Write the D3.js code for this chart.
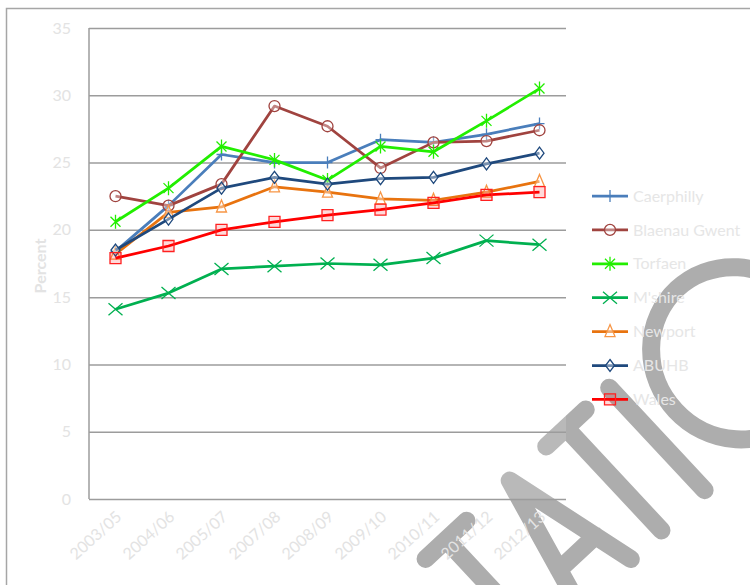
<!DOCTYPE html>
<html>
<head>
<meta charset="utf-8">
<script src="https://cdn.jsdelivr.net/npm/d3@7"></script>
<style>
  body { margin: 0; background: #fff; }
  text { font-family: Lato, "Open Sans", sans-serif; }
</style>
</head>
<body>
<div id="chart"></div>
<script>
// categories and tick labels
var years = ["2003/05", "2004/06", "2005/07", "2007/08", "2008/09", "2009/10", "2010/11", "2011/12", "2012/13"];
var yTicks = [0, 5, 10, 15, 20, 25, 30, 35];

// series values (percent)
var caerphilly = [18.4, 21.8, 25.6, 25.0, 25.0, 26.7, 26.5, 27.1, 27.9];
var blaenauGwent = [22.5, 21.8, 23.4, 29.2, 27.7, 24.6, 26.5, 26.6, 27.4];
var torfaen = [20.6, 23.1, 26.2, 25.2, 23.7, 26.2, 25.8, 28.1, 30.5];
var mshire = [14.1, 15.3, 17.1, 17.3, 17.5, 17.4, 17.9, 19.2, 18.9];
var newport = [18.2, 21.3, 21.7, 23.2, 22.8, 22.3, 22.2, 22.8, 23.6];
var abuhb = [18.5, 20.8, 23.1, 23.9, 23.4, 23.8, 23.9, 24.9, 25.7];
var wales = [17.9, 18.8, 20.0, 20.6, 21.1, 21.5, 22.0, 22.6, 22.8];

var seriesNames = ["Caerphilly", "Blaenau Gwent", "Torfaen", "M'shire", "Newport", "ABUHB", "Wales"];

var series = [
    { name: seriesNames[0], values: caerphilly, color: "#4a7ebb", marker: "plus", mcolor: "#4a7ebb", mfill: "none" },
    { name: seriesNames[1], values: blaenauGwent, color: "#a0433f", marker: "circle", mcolor: "#a0433f", mfill: "rgba(255,255,255,0.35)" },
    { name: seriesNames[2], values: torfaen, color: "#22ee00", marker: "star", mcolor: "#22ee00", mfill: "none" },
    { name: seriesNames[3], values: mshire, color: "#00b050", marker: "cross", mcolor: "#00b050", mfill: "none" },
    { name: seriesNames[4], values: newport, color: "#e8730f", marker: "triangle", mcolor: "#f79646", mfill: "rgba(255,255,255,0.4)" },
    { name: seriesNames[5], values: abuhb, color: "#1f497d", marker: "diamond", mcolor: "#1f497d", mfill: "rgba(255,255,255,0.4)" },
    { name: seriesNames[6], values: wales, color: "#ff0000", marker: "square", mcolor: "#ff2020", mfill: "rgba(255,0,0,0.15)" }
];

// set the dimensions and margins of the graph
var margin = { top: 28, left: 89 },
    width = 477,
    height = 471;

var svg = d3.select("#chart")
    .append("svg")
    .attr("width", 750)
    .attr("height", 585);

// watermark (single stroke letters, drawn behind the chart)
var wm = svg.append("g")
    .attr("transform", "translate(566,428) rotate(-43)")
    .attr("fill", "none")
    .attr("stroke", "#adadad")
    .attr("stroke-width", 18)
    .attr("stroke-linecap", "round")
    .attr("stroke-linejoin", "round");
var glyphs = [
    "M-192,0 L-136,0 M-164,0 L-164,140",
    "M-112,140 L-77,0 L-42,140 M-102,99 L-52,99",
    "M-27,0 L27,0 M0,0 L0,140",
    "M59,0 L59,140",
    "M92,62 A84,88 0 1,1 260,62 A84,88 0 1,1 92,62",
    "M295,140 L295,0 L395,140 L395,0"
];
wm.selectAll("path")
    .data(glyphs)
    .enter()
    .append("path")
    .attr("d", d => d);

// outer chart border
svg.append("rect")
    .attr("x", 6.5)
    .attr("y", 8.5)
    .attr("width", 800)
    .attr("height", 700)
    .attr("fill", "none")
    .attr("stroke", "#a6a6a6")
    .attr("stroke-width", 1.5);

var chart = svg.append("g")
    .attr("transform", "translate(" + margin.left + "," + margin.top + ")");

// plot area (slightly veils the watermark)
chart.append("rect")
    .attr("width", width)
    .attr("height", height)
    .attr("fill", "#fff")
    .attr("opacity", 0.15);

// scales
var x = d3.scalePoint()
    .domain(years)
    .range([0, width])
    .padding(0.5);

var y = d3.scaleLinear()
    .domain([0, 35])
    .range([height, 0]);

// Y axis with gridlines
var yAxis = chart.append("g")
    .call(d3.axisLeft(y).tickValues(yTicks).tickSize(-width).tickPadding(18));
yAxis.select(".domain").remove();
yAxis.selectAll(".tick line")
    .attr("stroke", "#9c9c9c")
    .attr("stroke-width", 1.5);
yAxis.selectAll(".tick text")
    .attr("fill", "#e3e3e3")
    .attr("font-size", "16px")
    .style("font-family", "Lato, sans-serif");

// left axis line
chart.append("line")
    .attr("x1", 0).attr("x2", 0)
    .attr("y1", 0).attr("y2", height)
    .attr("stroke", "#9c9c9c")
    .attr("stroke-width", 1.5);

// X axis labels
var xAxis = chart.append("g")
    .attr("transform", "translate(0," + height + ")")
    .call(d3.axisBottom(x).tickSize(0));
xAxis.select(".domain").remove();
xAxis.selectAll(".tick text")
    .attr("fill", "#e3e3e3")
    .attr("font-size", "16px")
    .style("font-family", "Lato, sans-serif")
    .attr("text-anchor", "end")
    .attr("dy", "0.35em")
    .attr("transform", "translate(1,13) rotate(-42)");

// Y axis title
svg.append("text")
    .attr("transform", "translate(46,266) rotate(-90)")
    .attr("text-anchor", "middle")
    .attr("font-size", "16px")
    .attr("font-weight", "bold")
    .attr("fill", "#e3e3e3")
    .text("Percent");

// marker shapes
function markerPath(type) {
    switch (type) {
        case "plus": return "M-5,0 L5,0 M0,-6 L0,6";
        case "circle": return "M-5.5,0 A5.5,5.5 0 1,1 5.5,0 A5.5,5.5 0 1,1 -5.5,0 Z";
        case "star": return "M-5,-5 L5,5 M-5,5 L5,-5 M0,-7 L0,7";
        case "cross": return "M-7,-6 L7,6 M-7,6 L7,-6";
        case "triangle": return "M0,-7 L5,5 L-5,5 Z";
        case "diamond": return "M0,-6 L4.5,0 L0,6 L-4.5,0 Z";
        case "square": return "M-5.5,-5.5 L5.5,-5.5 L5.5,5.5 L-5.5,5.5 Z";
    }
}

var line = d3.line()
    .x((d, i) => x(years[i]))
    .y(d => y(d));

// Add lines
var lines = chart.selectAll(".series")
    .data(series)
    .enter()
    .append("g")
    .attr("class", "series");

lines.append("path")
    .attr("d", d => line(d.values))
    .attr("fill", "none")
    .attr("stroke", d => d.color)
    .attr("stroke-width", 2.75)
    .attr("stroke-linejoin", "round");

// Add markers
lines.each(function (s) {
    d3.select(this).selectAll("path.marker")
        .data(s.values)
        .enter()
        .append("path")
        .attr("class", "marker")
        .attr("transform", (d, i) => "translate(" + x(years[i]) + "," + y(d) + ")")
        .attr("d", markerPath(s.marker))
        .attr("fill", s.mfill)
        .attr("stroke", s.mcolor)
        .attr("stroke-width", 1.3);
});

// Legend
var legend = svg.selectAll(".legend")
    .data(series)
    .enter()
    .append("g")
    .attr("class", "legend")
    .attr("transform", (d, i) => "translate(592," + (196 + i * 33.9) + ")");

legend.append("line")
    .attr("x1", 0).attr("x2", 36)
    .attr("stroke", d => d.color)
    .attr("stroke-width", 2.75);

legend.append("path")
    .attr("transform", "translate(18,0)")
    .attr("d", d => markerPath(d.marker))
    .attr("fill", d => d.mfill)
    .attr("stroke", d => d.mcolor)
    .attr("stroke-width", 1.3);

legend.append("text")
    .attr("x", 41)
    .attr("dy", "0.35em")
    .attr("font-size", "16px")
    .attr("fill", "#e6e6e6")
    .text(d => d.name);
</script>
</body>
</html>
